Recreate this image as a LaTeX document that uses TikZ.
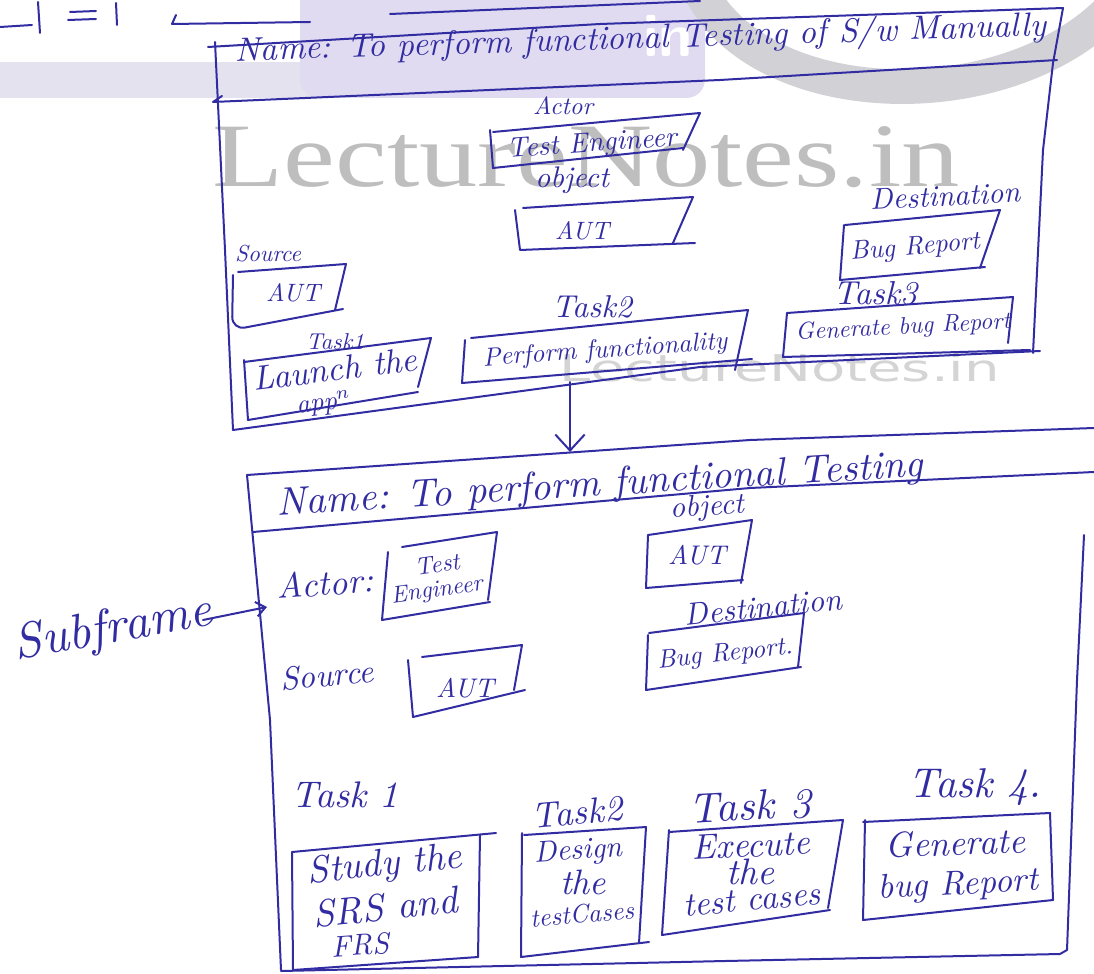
\documentclass[tikz,border=0pt]{standalone}
\usepackage{fontspec}
\usepackage{graphicx}
\usetikzlibrary{arrows.meta}
\newfontfamily\wmserif{Liberation Serif}
\newfontfamily\wmsans{DejaVu Sans}
\definecolor{ink}{RGB}{50,44,162}
\definecolor{lav}{RGB}{224,219,240}
\definecolor{lavband}{RGB}{228,226,238}
\definecolor{logogrey}{RGB}{210,210,214}
\definecolor{wmbig}{RGB}{190,190,190}
\definecolor{wmsmall}{RGB}{212,212,212}
\newlength\pxu
\setlength\pxu{0.75pt}
% handwritten-looking label scaled to a given width (in px)
\newcommand\hw[2]{\resizebox{#1\pxu}{!}{\itshape #2}}
\tikzset{
  hand/.style={draw=ink, line width=1.5pt, line cap=round, line join=round},
  lbl/.style={text=ink, inner sep=0pt, anchor=center},
  barb/.style={-{Straight Barb[length=12pt,width=22pt]}},
  smallbarb/.style={-{Straight Barb[length=7pt,width=11pt]}}
}
\begin{document}
\begin{tikzpicture}[x=0.75pt,y=-0.75pt]
\useasboundingbox (0,0) rectangle (1094,973);
\fill[white] (0,0) rectangle (1094,973);

% ---- logo band at the top ----
\fill[lavband] (0,62) rectangle (320,98);
\fill[lav, rounded corners=14pt] (300,-20) -- (705,-20) -- (705,98) -- (300,98) -- cycle;
\draw[logogrey, line width=26pt] (700,-10) .. controls (760,110) and (1000,120) .. (1110,10);
\node[inner sep=0pt, text=white] (logoin) at (668,36) {\resizebox{50\pxu}{!}{\sffamily\bfseries in}};

% ---- watermarks ----
\node[inner sep=0pt, anchor=south, text=wmbig] (wmark) at (586,188)
  {\resizebox{747\pxu}{60\pxu}{\wmserif LectureNotes.in}};
\node[inner sep=0pt, anchor=south, text=wmsmall] (wmark2) at (780,382)
  {\resizebox{440\pxu}{28\pxu}{\wmsans LectureNotes.in}};

% ---- strokes left over from the line above ----
\draw[hand] (0,27) -- (32,25);
\draw[hand] (38,2) -- (40,33);
\draw[hand] (70,12) -- (96,11);
\draw[hand] (68,20) -- (96,19);
\draw[hand] (116,3) -- (117,25);
\draw[hand] (176,15) -- (172,24) -- (310,22);
\draw[hand] (390,14) -- (700,1);

% ================= main frame =================
\draw[hand] (208,47) -- (600,24) -- (1063,8);
\draw[hand] (222,96) -- (213,102) -- (720,80) -- (1057,60);
\draw[hand] (215,42) -- (225,250) -- (233,430);
\draw[hand] (1063,8) -- (1053,63) -- (1043,150) -- (1033,353);
\draw[hand] (233,430) -- (700,367) -- (1040,351);

\node[lbl, rotate=1.8] (h1) at (641,40) {\hw{811}{Name: To perform functional Testing of S/w Manually}};

\node[lbl] (actor1) at (563,106) {\hw{60}{Actor}};
\node[lbl, rotate=4] (te1) at (592,145) {\hw{170}{Test Engineer}};
\draw[hand] (493,132) -- (700,113) -- (683,150);
\draw[hand] (683,148) -- (493,168) -- (490,130);

\node[lbl] (obj1) at (572,180) {\hw{74}{object}};
\node[lbl] (aut1) at (582,231) {\hw{54}{AUT}};
\draw[hand] (523,208) -- (693,197) -- (673,243);
\draw[hand] (695,243) -- (520,250) -- (515,210);

\node[lbl, rotate=3] (dest1) at (945,196) {\hw{150}{Destination}};
\node[lbl, rotate=5] (bug1) at (915,248) {\hw{130}{Bug Report}};
\draw[hand] (845,225) -- (1000,210) -- (980,268);
\draw[hand] (985,267) -- (840,280) -- (844,225);

\node[lbl] (src1) at (268,254) {\hw{66}{Source}};
\node[lbl] (saut1) at (293,293) {\hw{54}{AUT}};
\draw[hand] (238,272) -- (346,264) -- (335,310);
\draw[hand, rounded corners=10pt] (343,309) -- (232,330) -- (233,275);

\node[lbl] (t1a) at (335,342) {\hw{58}{Task1}};
\node[lbl, rotate=7] (launch) at (335,369) {\hw{165}{Launch the}};
\node[lbl, rotate=7] (appn) at (324,404) {\hw{55}{app$^n$}};
\draw[hand] (244,362) -- (431,338) -- (418,387);
\draw[hand] (418,392) -- (248,420) -- (244,360);

\node[lbl] (t2a) at (592,307) {\hw{80}{Task2}};
\node[lbl, rotate=4] (perf) at (605,351) {\hw{245}{Perform functionality}};
\draw[hand] (471,338) -- (748,310) -- (735,370);
\draw[hand] (752,359) -- (462,383) -- (465,340);

\node[lbl] (t3a) at (875,293) {\hw{84}{Task3}};
\node[lbl, rotate=3] (gen1) at (903,328) {\hw{215}{Generate bug Report}};
\draw[hand] (787,313) -- (1013,297) -- (1008,343);
\draw[hand] (1030,350) -- (783,357) -- (787,313);

% ---- refinement arrow ----
\coordinate (fromtop) at (570,382);
\coordinate (tosub) at (570,452);
\draw[hand, barb] (fromtop) -- (tosub);

% ================= subframe =================
\draw[hand] (247,475) -- (750,440) -- (1094,428);
\draw[hand] (253,532) -- (750,488) -- (1094,472);
\draw[hand] (247,475) -- (270,720) -- (281,970);
\draw[hand] (1084,535) -- (1077,680) -- (1067,950) -- (1060,954) -- (725,961) -- (281,971);

\node[lbl, rotate=3.5] (h2) at (600,486) {\hw{647}{Name: To perform functional Testing}};

\node[lbl, rotate=3] (obj2) at (707,508) {\hw{74}{object}};
\node[lbl] (aut2) at (697,555) {\hw{58}{AUT}};
\draw[hand] (648,535) -- (752,520) -- (741,583);
\draw[hand] (743,580) -- (646,588) -- (648,535);

\node[lbl, rotate=4] (actor2) at (325,583) {\hw{96}{Actor:}};
\node[lbl, rotate=8] (te2a) at (437,564) {\hw{45}{Test}};
\node[lbl, rotate=8] (te2b) at (437,591) {\hw{92}{Engineer}};
\draw[hand] (402,547) -- (497,532) -- (488,600);
\draw[hand] (490,602) -- (382,620) -- (388,552);

\node[lbl, rotate=6] (dest2) at (763,607) {\hw{158}{Destination}};
\node[lbl, rotate=6] (bug2) at (725,655) {\hw{136}{Bug Report.}};
\draw[hand] (649,633) -- (804,613) -- (798,667);
\draw[hand] (801,667) -- (646,690) -- (648,635);

\node[lbl, rotate=10] (subf) at (113,630) {\hw{200}{Subframe}};
\coordinate (sfa) at (203,620);
\coordinate (sfb) at (267,607);
\draw[hand, smallbarb] (sfa) -- (sfb);

\node[lbl, rotate=5] (src2) at (327,675) {\hw{93}{Source}};
\node[lbl] (saut2) at (465,688) {\hw{58}{AUT}};
\draw[hand] (422,657) -- (522,645) -- (514,690);
\draw[hand] (525,690) -- (413,717) -- (408,660);

\node[lbl] (t1b) at (345,795) {\hw{107}{Task 1}};
\node[lbl, rotate=5] (t2b) at (577,812) {\hw{91}{Task2}};
\node[lbl, rotate=3] (t3b) at (750,806) {\hw{122}{Task 3}};
\node[lbl] (t4b) at (975,787) {\hw{133}{Task 4.}};

\node[lbl, rotate=6] (study1) at (385,866) {\hw{155}{Study the}};
\node[lbl, rotate=6] (study2) at (385,907) {\hw{145}{SRS and}};
\node[lbl, rotate=4] (study3) at (360,945) {\hw{58}{FRS}};
\draw[hand] (292,852) -- (496,833);
\draw[hand] (480,835) -- (478,957);
\draw[hand] (292,852) -- (293,970);
\draw[hand] (293,970) -- (478,957);

\node[lbl, rotate=4] (des1) at (578,852) {\hw{88}{Design}};
\node[lbl] (des2) at (583,882) {\hw{46}{the}};
\node[lbl, rotate=5] (des3) at (582,914) {\hw{104}{testCases}};
\draw[hand] (524,835) -- (646,827) -- (639,943);
\draw[hand] (649,942) -- (521,957) -- (522,833);

\node[lbl, rotate=3] (ex1) at (751,845) {\hw{118}{Execute}};
\node[lbl] (ex2) at (750,872) {\hw{48}{the}};
\node[lbl, rotate=5] (ex3) at (752,900) {\hw{138}{test cases}};
\draw[hand] (669,832) -- (843,820) -- (828,908);
\draw[hand] (830,910) -- (662,935) -- (669,830);

\node[lbl, rotate=2] (gen2a) at (955,843) {\hw{140}{Generate}};
\node[lbl, rotate=3] (gen2b) at (958,886) {\hw{160}{bug Report}};
\draw[hand] (863,822) -- (1050,813) -- (1053,900);
\draw[hand] (1053,900) -- (863,920) -- (865,820);
\end{tikzpicture}
\end{document}
